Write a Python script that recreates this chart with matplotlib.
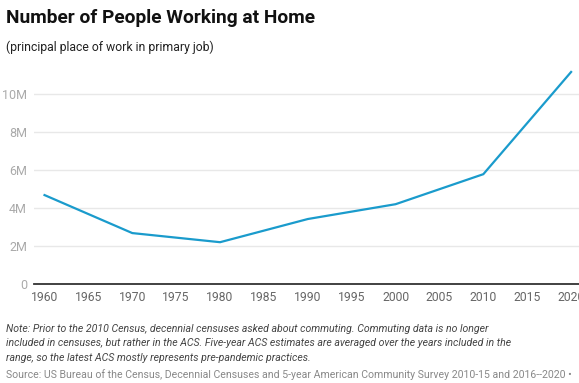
import matplotlib
matplotlib.use("Agg")
import matplotlib.pyplot as plt
from matplotlib.ticker import FuncFormatter

plt.rcParams['font.family'] = ['Roboto', 'DejaVu Sans']

years = [1960, 1970, 1980, 1990, 2000, 2010, 2020]
workers_m = [4.68, 2.68, 2.2, 3.42, 4.2, 5.78, 11.16]
xticks = list(range(1960, 2021, 5))
yticks = [0, 2, 4, 6, 8, 10]

fig = plt.figure(figsize=(5.79, 3.83), dpi=100)
ax = fig.add_axes([34/579, 1 - 284/383, (579-34)/579, (284-60)/383])

ax.plot(years, workers_m, color='#1a9bcc', linewidth=1.6, solid_joinstyle='miter', clip_on=False)
ax.set_xlim(1958.8, 2020.9)
ax.set_ylim(0, 224/19)
ax.set_yticks(yticks)
ax.set_xticks(xticks)
ax.yaxis.set_major_formatter(FuncFormatter(lambda v, p: '0' if v == 0 else f'{int(v)}M'))
ax.grid(axis='y', color='#e8e8e8', linewidth=1)
ax.set_axisbelow(True)
for s in ['top', 'right', 'left']:
    ax.spines[s].set_visible(False)
ax.spines['bottom'].set_color('#333333')
ax.spines['bottom'].set_linewidth(1.3)
ax.tick_params(axis='y', length=0, pad=5, labelsize=9, labelcolor='#aaaaaa')
ax.tick_params(axis='x', length=0, pad=5, labelsize=8.7, labelcolor='#666666')

fig.text(6/579, 1 - 18/383, 'Number of People Working at Home', fontsize=13.8, fontweight='bold',
         color='#111111', va='center', ha='left')
fig.text(6/579, 1 - 47/383, '(principal place of work in primary job)', fontsize=8.8,
         color='#222222', va='center', ha='left')

note = ("Note: Prior to the 2010 Census, decennial censuses asked about commuting. Commuting data is no longer\n"
        "included in censuses, but rather in the ACS. Five-year ACS estimates are averaged over the years included in the\n"
        "range, so the latest ACS mostly represents pre-pandemic practices.")
fig.text(6/579, 1 - 324/383, note, fontsize=7.6, style='italic', color='#444444', va='top', ha='left',
         linespacing=1.55)
fig.text(6/579, 1 - 375/383,
         'Source: US Bureau of the Census, Decennial Censuses and 5-year American Community Survey 2010-15 and 2016--2020 \u2022',
         fontsize=7.6, color='#888888', va='center', ha='left')

fig.savefig('out.png', dpi=100)
